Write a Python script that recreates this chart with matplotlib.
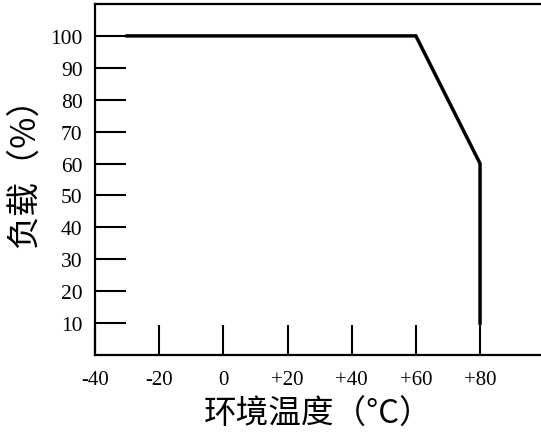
import matplotlib.pyplot as plt

# derating curve: ambient temperature vs load
temps = [-30, 60, 80, 80]
load = [100, 100, 60, 10]

x_ticks = [-40, -20, 0, 20, 40, 60, 80]
x_labels = ['-40', '-20', '0', '+20', '+40', '+60', '+80']
y_ticks = [10, 20, 30, 40, 50, 60, 70, 80, 90, 100]

cjk = ['Noto Sans CJK SC', 'DejaVu Sans']

fig = plt.figure(figsize=(5.41, 4.39), dpi=100)
ax = fig.add_axes([95 / 541, 83 / 439, 446 / 541, 351 / 439])

ax.plot(temps, load, color='black', linewidth=2.5, solid_joinstyle='miter')

ax.set_xlim(-40, 99)
ax.set_ylim(0, 110)

ax.set_xticks(x_ticks)
ax.set_xticklabels(x_labels, family='Liberation Serif', fontsize=15)
ax.set_yticks(y_ticks)
ax.set_yticklabels([str(v) for v in y_ticks], family='Liberation Serif', fontsize=15.5)

ax.tick_params(axis='x', direction='in', length=21.5, width=1.5, pad=11)
ax.tick_params(axis='y', direction='in', length=22, width=1.5, pad=9)

ax.spines['right'].set_visible(False)
for side in ['left', 'top', 'bottom']:
    ax.spines[side].set_linewidth(1.6)

ax.set_xlabel('环境温度（°C）', family=cjk, fontsize=23.5, labelpad=6)
ax.set_ylabel('负载（%）', family=cjk, fontsize=24.5, labelpad=3)
ax.yaxis.set_label_coords(-0.12, 0.545)

fig.savefig('out.png', dpi=100)
